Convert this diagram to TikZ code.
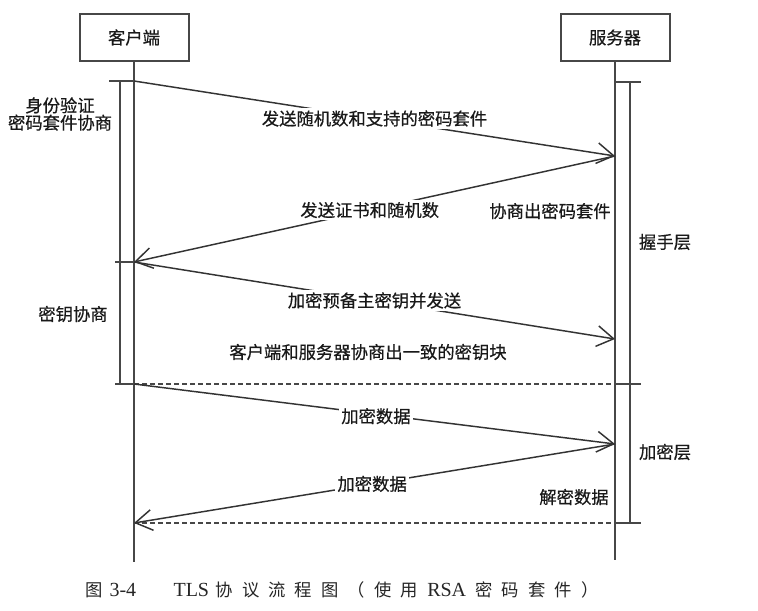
\documentclass[tikz,border=0pt]{standalone}
\usepackage{fontspec}
\setmainfont{Liberation Serif}
\newfontfamily\cjk{Noto Sans CJK SC}
\newfontfamily\cjkd[FakeBold=0.5]{Noto Sans CJK SC}
\usetikzlibrary{arrows.meta}
\newcommand\cs{\hspace{6.8pt}}
\newcommand\lat[1]{{\rmfamily\fontsize{15}{16}\selectfont #1}}
\begin{document}
\begin{tikzpicture}[x=0.75pt,y=-0.75pt,
  lbl/.style={font=\cjkd\fontsize{13}{14}\selectfont, text=black!90, inner sep=1.5pt},
  onl/.style={lbl, fill=white},
  life/.style={draw=black!72, line width=1.5pt},
  msg/.style={draw=black!80, line width=1.1pt, -{Straight Barb[length=12.5pt,width=15.5pt,line width=1.1pt]}},
  dsh/.style={draw=black!72, line width=1.1pt, dash pattern=on 3.75pt off 2.25pt},
  actor/.style={lbl, draw=black!72, line width=1.5pt, minimum width=81.75pt, minimum height=35.25pt}]
\fill[white] (0,0) rectangle (758,611);
\useasboundingbox (0,0) rectangle (758,611);

% actors
\node[actor] (cli) at (134,37.5) {客户端};
\node[actor] (srv) at (615,37.5) {服务器};

% named points
\coordinate (cend) at (134,562);
\coordinate (send) at (615,560);
\coordinate (c1) at (134,81);
\coordinate (c2) at (134,262);
\coordinate (c3) at (134,384);
\coordinate (c4) at (134,523);
\coordinate (s1) at (615,156);
\coordinate (s2) at (615,339);
\coordinate (s3) at (615,444);
\coordinate (d1) at (615,384);
\coordinate (d2) at (615,523);

% lifelines
\draw[life] (cli.south) -- (cend);
\draw[life] (srv.south) -- (send);

% client activation bar
\draw[life] (109,81) -- (c1);
\draw[life] (120,81) -- (120,384);
\draw[life] (115,262) -- (c2);
\draw[life] (115,384) -- (c3);

% server activation bar
\draw[life] (615,82) -- (641,82);
\draw[life] (630,82) -- (630,523);
\draw[life] (d1) -- (641,384);
\draw[life] (d2) -- (641,523);

% dashed separators
\draw[dsh] (c3) -- (d1);
\draw[dsh] (c4) -- (d2);

% messages
\draw[msg] (c1) -- node[onl, pos=0.5] {发送随机数和支持的密码套件} (s1);
\draw[msg] (s1) -- node[onl, pos=0.51] {发送证书和随机数} (c2);
\draw[msg] (c2) -- node[onl, pos=0.5] {加密预备主密钥并发送} (s2);
\draw[msg] (c3) -- node[onl, pos=0.503, yshift=-1.5pt] {加密数据} (s3);
\draw[msg] (s3) -- node[onl, pos=0.505] {加密数据} (c4);

% free labels
\node[lbl, align=center, font=\cjkd\fontsize{13}{13}\selectfont] (auth) at (60,114) {身份验证\\密码套件协商};
\node[lbl] (neg) at (550,211) {协商出密码套件};
\node[lbl] (hs) at (665,242) {握手层};
\node[lbl] (kx) at (73,314) {密钥协商};
\node[lbl] (kb) at (368,352) {客户端和服务器协商出一致的密钥块};
\node[lbl] (enc) at (665,452) {加密层};
\node[lbl] (dec) at (574,497) {解密数据};

% caption
\node[font=\cjk\fontsize{13}{14}\selectfont, text=black!85, inner sep=0pt] (cap) at (342,590)
  {图\hspace{5pt}\lat{3-4}\hspace{28pt}\lat{TLS}\hspace{5pt}协\cs 议\cs 流\cs 程\cs 图\cs （\cs 使\cs 用\hspace{7pt}\lat{RSA}\hspace{7pt}密\cs 码\cs 套\cs 件\cs ）};
\end{tikzpicture}
\end{document}
